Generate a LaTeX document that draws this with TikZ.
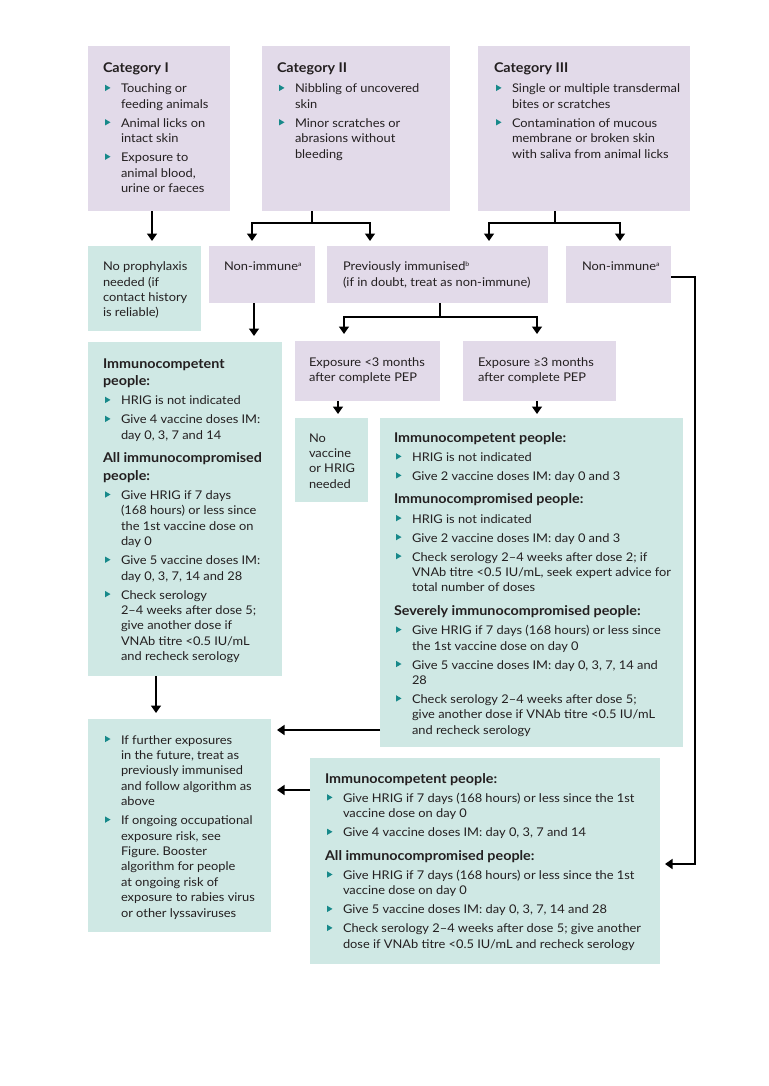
\documentclass[tikz,border=0pt]{standalone}
\usepackage{fontspec}
\setmainfont{Lato}[FakeStretch=1.07]
\usetikzlibrary{arrows.meta,calc}
\frenchspacing
\definecolor{purp}{HTML}{E2DAE9}
\definecolor{grn}{HTML}{CFE8E4}
\definecolor{bulc}{HTML}{17898A}
\definecolor{txt}{HTML}{231F20}
\newlength\myhang \setlength\myhang{18pt}
\newlength\isep \setlength\isep{3.6pt}
\newlength\hsep \setlength\hsep{5.8pt}
\newcommand\bodyfont{\fontsize{12}{15.4}\selectfont}
\newcommand\hdfont{\fontsize{13.4}{17.5}\selectfont\bfseries}
\newcommand\catfont{\fontsize{13.4}{15.4}\selectfont\bfseries}
\newcommand\fstrut{\rule{0pt}{12pt}}
\newcommand\bul{\tikz[baseline=0pt]\fill[bulc] (0pt,1.8pt)--(0pt,8.2pt)--(5.5pt,5pt)--cycle;}
\newcommand\itm[2][\isep]{\par\vspace{#1}\hangindent=\myhang\hangafter=1\noindent\fstrut\rlap{\hspace{2pt}\bul}\hspace{\myhang}#2\par}
\newcommand\hd[2][\hsep]{\par\vspace{#1}{\hdfont\noindent\fstrut#2\par}}
\newcommand\cathd[1]{{\catfont\noindent\fstrut#1\par}}
\newcommand\ptxt[1]{\noindent\fstrut#1\par}
\newcommand\sups[1]{\raisebox{4.5pt}{\fontsize{6.5}{6.5}\selectfont #1}}
\newcommand\cbox[5]{\parbox[t][#2pt][t]{#1pt}{\bodyfont\frenchspacing\parindent=0pt\parskip=0pt\leftskip=#3pt\rightskip=-60pt plus 1fil\relax\vspace*{#4pt}#5}}
\tikzset{
  box/.style={anchor=north west, inner sep=0pt, outer sep=0pt, fill=#1, text=txt},
  arr/.style={line width=1.5pt, -{Triangle[width=10pt,length=7.5pt]}},
}
\begin{document}
\begin{tikzpicture}[x=1pt,y=-1pt]
\fill[white] (0,0) rectangle (768,1086);
\useasboundingbox (0,0) rectangle (768,1086);

% top row
\node[box=purp] (c1) at (88,46) {\cbox{142}{165}{15}{14.5}{%
  \cathd{Category I}
  \itm[5pt]{Touching or\\feeding animals}
  \itm{Animal licks on\\intact skin}
  \itm{Exposure to\\animal blood,\\urine or faeces}}};
\node[box=purp] (c2) at (262,46) {\cbox{188}{165}{15}{14.5}{%
  \cathd{Category II}
  \itm[5pt]{Nibbling of uncovered\\skin}
  \itm{Minor scratches or\\abrasions without\\bleeding}}};
\node[box=purp] (c3) at (478,46) {\cbox{212}{165}{16}{14.5}{%
  \cathd{Category III}
  \itm[5pt]{Single or multiple transdermal\\bites or scratches}
  \itm{Contamination of mucous\\membrane or broken skin\\with saliva from animal licks}}};

% second row
\node[box=grn] (np) at (88,246) {\cbox{113}{85}{15}{12.7}{%
  \ptxt{No prophylaxis\\needed (if\\contact history\\is reliable)}}};
\node[box=purp] (ni1) at (209,246) {\cbox{106}{57}{15}{12.7}{%
  \ptxt{Non-immune\sups{a}}}};
\node[box=purp] (pi) at (327,246) {\cbox{221}{57}{16}{12.7}{%
  \ptxt{Previously immunised\sups{b}\\ (if in doubt, treat as non-immune)}}};
\node[box=purp] (ni2) at (566,246) {\cbox{105}{57}{16}{12.7}{%
  \ptxt{Non-immune\sups{a}}}};

% third row
\node[box=grn] (ic1) at (88,342) {\cbox{194}{334}{15}{14}{%
  \hd[0pt]{Immunocompetent\\people:}
  \itm[4pt]{HRIG is not indicated}
  \itm{Give 4 vaccine doses IM:\\day 0, 3, 7 and 14}
  \hd{All immunocompromised\\people:}
  \itm[4pt]{Give HRIG if 7 days\\(168 hours) or less since\\the 1st vaccine dose on\\day 0}
  \itm{Give 5 vaccine doses IM:\\day 0, 3, 7, 14 and 28}
  \itm{Check serology\\2–4 weeks after dose 5;\\give another dose if\\VNAb titre <0.5 IU/mL\\and recheck serology}}};
\node[box=purp] (e1) at (295,341) {\cbox{145}{60}{14}{13}{%
  \ptxt{Exposure <3 months\\after complete PEP}}};
\node[box=purp] (e2) at (463,341) {\cbox{153}{60}{15}{13}{%
  \ptxt{Exposure ≥3 months\\after complete PEP}}};
\node[box=grn] (nv) at (295,418) {\cbox{73}{84}{14}{12}{%
  \ptxt{No\\vaccine\\or HRIG\\needed}}};
\node[box=grn] (m) at (380,418) {\cbox{303}{329}{14}{12}{%
  \hd[0pt]{Immunocompetent people:}
  \itm[4pt]{HRIG is not indicated}
  \itm{Give 2 vaccine doses IM: day 0 and 3}
  \hd{Immunocompromised people:}
  \itm[4pt]{HRIG is not indicated}
  \itm{Give 2 vaccine doses IM: day 0 and 3}
  \itm{Check serology 2–4 weeks after dose 2; if\\VNAb titre <0.5 IU/mL, seek expert advice for\\total number of doses}
  \hd{Severely immunocompromised people:}
  \itm[4pt]{Give HRIG if 7 days (168 hours) or less since\\the 1st vaccine dose on day 0}
  \itm{Give 5 vaccine doses IM: day 0, 3, 7, 14 and\\28}
  \itm{Check serology 2–4 weeks after dose 5;\\give another dose if VNAb titre <0.5 IU/mL\\and recheck serology}}};

% bottom
\node[box=grn] (bl) at (88,719) {\cbox{183}{213}{15}{13}{%
  \itm[0pt]{If further exposures\\in the future, treat as\\previously immunised\\and follow algorithm as\\above}
  \itm{If ongoing occupational\\exposure risk, see\\Figure. Booster\\algorithm for people\\at ongoing risk of\\exposure to rabies virus\\or other lyssaviruses}}};
\node[box=grn] (br) at (310,758) {\cbox{350}{206}{15}{13}{%
  \hd[0pt]{Immunocompetent people:}
  \itm[4pt]{Give HRIG if 7 days (168 hours) or less since the 1st\\vaccine dose on day 0}
  \itm{Give 4 vaccine doses IM: day 0, 3, 7 and 14}
  \hd{All immunocompromised people:}
  \itm[4pt]{Give HRIG if 7 days (168 hours) or less since the 1st\\vaccine dose on day 0}
  \itm{Give 5 vaccine doses IM: day 0, 3, 7, 14 and 28}
  \itm{Check serology 2–4 weeks after dose 5; give another\\dose if VNAb titre <0.5 IU/mL and recheck serology}}};

% connectors
\draw[arr, shorten >=5pt] ($(c1.south west)+(64,0)$) -- ($(np.north west)+(64,0)$);
\draw[arr, shorten >=5pt] ($(c2.south west)+(50,0)$) -- ++(0,12) -| ($(ni1.north west)+(43,0)$);
\draw[arr, shorten >=5pt] ($(c2.south west)+(50,12)$) -| ($(pi.north west)+(43,0)$);
\draw[arr, shorten >=5pt] ($(c3.south west)+(77,0)$) -- ++(0,12) -| ($(pi.north west)+(162,0)$);
\draw[arr, shorten >=5pt] ($(c3.south west)+(77,12)$) -| ($(ni2.north west)+(54,0)$);
\draw[arr, shorten >=6pt] ($(ni1.south west)+(45,0)$) -- ($(ic1.north west)+(166,0)$);
\draw[arr, shorten >=7pt] ($(pi.south west)+(113,0)$) -- ++(0,14) -| ($(e1.north west)+(49,0)$);
\draw[arr, shorten >=7pt] ($(pi.south west)+(113,14)$) -| ($(e2.north west)+(74,0)$);
\draw[arr, shorten >=4pt] ($(e1.south west)+(43,0)$) -- ($(nv.north west)+(43,0)$);
\draw[arr, shorten >=4pt] ($(e2.south west)+(74,0)$) -- ($(m.north west)+(157,0)$);
\draw[arr, shorten >=5pt] ($(ni2.north east)+(0,31)$) -- ++(24,0) |- ($(br.north east)+(0,106)$);
\draw[arr, shorten >=6pt] ($(ic1.south west)+(68,0)$) -- ($(bl.north west)+(68,0)$);
\draw[arr, shorten >=6pt] ($(m.north west)+(0,312)$) -- ($(bl.north east)+(0,11)$);
\draw[arr, shorten >=6pt] ($(br.north west)+(0,32)$) -- ($(bl.north east)+(0,71)$);
\end{tikzpicture}
\end{document}
